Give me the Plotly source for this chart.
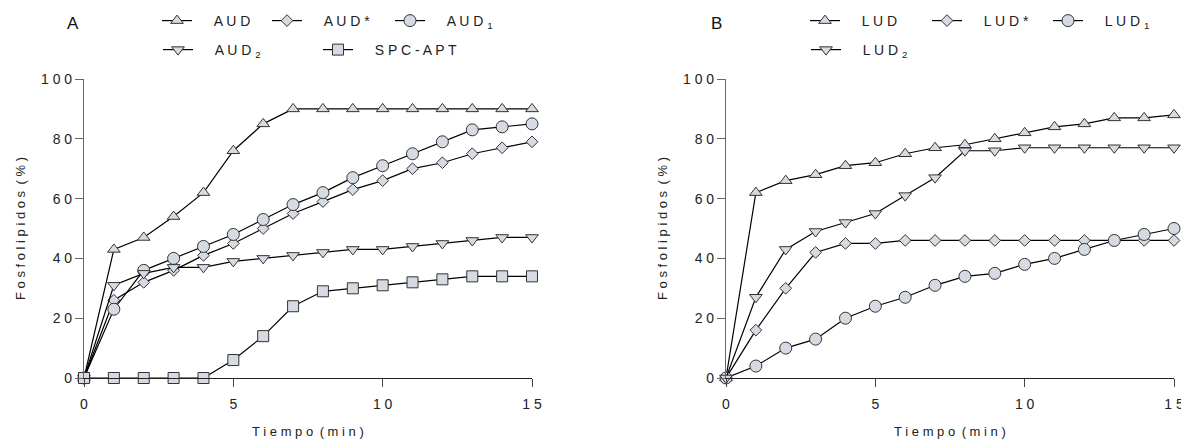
import plotly.graph_objects as go

time = list(range(16))

# Panel A
aud = [0, 43, 47, 54, 62, 76, 85, 90, 90, 90, 90, 90, 90, 90, 90, 90]
aud_star = [0, 26, 32, 36, 41, 45, 50, 55, 59, 63, 66, 70, 72, 75, 77, 79]
aud1 = [0, 23, 36, 40, 44, 48, 53, 58, 62, 67, 71, 75, 79, 83, 84, 85]
aud2 = [0, 31, 35, 37, 37, 39, 40, 41, 42, 43, 43, 44, 45, 46, 47, 47]
spc_apt = [0, 0, 0, 0, 0, 6, 14, 24, 29, 30, 31, 32, 33, 34, 34, 34]

# Panel B
lud = [0, 62, 66, 68, 71, 72, 75, 77, 78, 80, 82, 84, 85, 87, 87, 88]
lud_star = [0, 16, 30, 42, 45, 45, 46, 46, 46, 46, 46, 46, 46, 46, 46, 46]
lud1 = [0, 4, 10, 13, 20, 24, 27, 31, 34, 35, 38, 40, 43, 46, 48, 50]
lud2 = [0, 27, 43, 49, 52, 55, 61, 67, 76, 76, 77, 77, 77, 77, 77, 77]

y_ticks = [0, 20, 40, 60, 80, 100]
x_ticks = [0, 5, 10, 15]

SP = " "          # letter spacing
WS = "\u2002"     # word gap
LEAD = "\u2003\u2009"  # gap between legend symbol and text


def spaced(s):
    return SP.join(list(s))


def sub(base, s):
    return spaced(base) + SP + "<sub>" + s + "</sub>"


FILL = "#d5dae3"
EDGE = "#333333"
FONT = "Liberation Sans, Arial, sans-serif"

# page body has an 8px margin: work in screen pixels and convert
OFF = 8
W, H = 1189 - OFF, 445 - OFF


def fx(px):
    return (px - OFF) / W


def fy(py):
    return 1 - (py - OFF) / H


fig = go.Figure()

# (values, name, symbol, size, xaxis, yaxis, legend id, legend marker x, legend y)
series = [
    (aud, spaced("AUD"), "triangle-up", 11, "x", "y", 177, 21),
    (aud_star, spaced("AUD*"), "diamond", 9, "x", "y", 287, 21),
    (aud1, sub("AUD", "1"), "circle", 12, "x", "y", 410, 21),
    (aud2, sub("AUD", "2"), "triangle-down", 11, "x", "y", 178, 50),
    (spc_apt, spaced("SPC-APT"), "square", 11, "x", "y", 338, 50),
    (lud, spaced("LUD"), "triangle-up", 11, "x2", "y2", 825, 21),
    (lud_star, spaced("LUD*"), "diamond", 9, "x2", "y2", 947, 21),
    (lud1, sub("LUD", "1"), "circle", 12, "x2", "y2", 1068, 21),
    (lud2, sub("LUD", "2"), "triangle-down", 11, "x2", "y2", 826, 50),
]

legends = {}
for i, (vals, name, sym, size, xa, ya, lx, ly) in enumerate(series):
    lid = "legend" if i == 0 else f"legend{i + 1}"
    fig.add_trace(go.Scatter(
        x=time, y=vals, name=LEAD + name, mode="lines+markers",
        line=dict(color="black", width=1.2),
        marker=dict(symbol=sym, size=size, color=FILL,
                    line=dict(color=EDGE, width=1)),
        xaxis=xa, yaxis=ya, legend=lid, cliponaxis=False,
    ))
    legends[lid] = dict(
        x=(lx - OFF - 20) / W, y=fy(ly), xanchor="left", yanchor="middle",
        orientation="h", font=dict(family=FONT, size=14, color="#222"),
        bgcolor="rgba(0,0,0,0)", itemclick=False, itemdoubleclick=False,
    )

yd = [fy(378), fy(79)]

axis_common = dict(
    showline=True, linewidth=1.2, ticks="outside", ticklen=8, tickwidth=1.2,
    showgrid=False, zeroline=False, tickfont=dict(family=FONT, size=14, color="#222"),
)

fig.update_layout(
    width=W, height=H,
    margin=dict(l=0, r=0, t=0, b=0, autoexpand=False),
    paper_bgcolor="white", plot_bgcolor="white",
    showlegend=True,
    xaxis=dict(domain=[fx(84), fx(532)], range=[0, 15], anchor="y",
               tickvals=x_ticks, ticktext=[spaced(str(v)) for v in x_ticks],
               linecolor="#222", tickcolor="#444", ticklabelstandoff=5, **axis_common),
    yaxis=dict(domain=yd, range=[0, 100], anchor="x",
               tickvals=y_ticks, ticktext=[spaced(str(v)) for v in y_ticks],
               linecolor="#666", tickcolor="#666", **axis_common),
    xaxis2=dict(domain=[fx(726), fx(1174)], range=[0, 15], anchor="y2",
                tickvals=x_ticks, ticktext=[spaced(str(v)) for v in x_ticks],
                linecolor="#222", tickcolor="#444", ticklabelstandoff=5, **axis_common),
    yaxis2=dict(domain=yd, range=[0, 100], anchor="x2",
                tickvals=y_ticks, ticktext=[spaced(str(v)) for v in y_ticks],
                linecolor="#666", tickcolor="#666", **axis_common),
    **legends,
)

for text, px, py in [("A", 73, 24), ("B", 716, 24)]:
    fig.add_annotation(xref="paper", yref="paper", showarrow=False,
                       xanchor="center", yanchor="middle", text=text,
                       x=fx(px), y=fy(py),
                       font=dict(family=FONT, size=17, color="#111"))

x_title = spaced("Tiempo") + WS + spaced("(min)")
y_title = spaced("Fosfolipidos") + WS + spaced("(%)")
titles = [
    (x_title, 308, 431, 0),
    (x_title, 950, 431, 0),
    (y_title, 20, 229, -90),
    (y_title, 662, 229, -90),
]
for text, px, py, ang in titles:
    fig.add_annotation(xref="paper", yref="paper", showarrow=False,
                       xanchor="center", yanchor="middle", text=text,
                       x=fx(px), y=fy(py), textangle=ang,
                       font=dict(family=FONT, size=13, color="#222"))

fig.write_html("out.html")
